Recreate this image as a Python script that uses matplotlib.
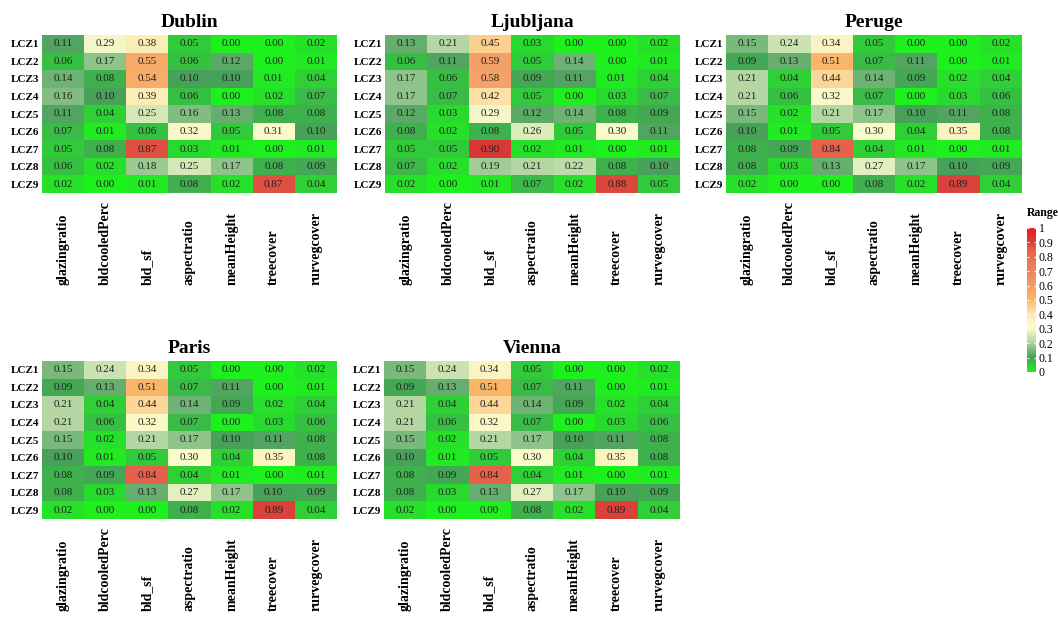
import matplotlib.pyplot as plt
import matplotlib.transforms as mtransforms
from matplotlib.colors import LinearSegmentedColormap
import numpy as np

rows = ['LCZ1', 'LCZ2', 'LCZ3', 'LCZ4', 'LCZ5', 'LCZ6', 'LCZ7', 'LCZ8', 'LCZ9']
cols = ['glazingratio', 'bldcooledPerc', 'bld_sf', 'aspectratio',
        'meanHeight', 'treecover', 'rurvegcover']

dublin = [
    [0.11, 0.29, 0.38, 0.05, 0.00, 0.00, 0.02],
    [0.06, 0.17, 0.55, 0.06, 0.12, 0.00, 0.01],
    [0.14, 0.08, 0.54, 0.10, 0.10, 0.01, 0.04],
    [0.16, 0.10, 0.39, 0.06, 0.00, 0.02, 0.07],
    [0.11, 0.04, 0.25, 0.16, 0.13, 0.08, 0.08],
    [0.07, 0.01, 0.06, 0.32, 0.05, 0.31, 0.10],
    [0.05, 0.08, 0.87, 0.03, 0.01, 0.00, 0.01],
    [0.06, 0.02, 0.18, 0.25, 0.17, 0.08, 0.09],
    [0.02, 0.00, 0.01, 0.08, 0.02, 0.87, 0.04],
]
ljubljana = [
    [0.13, 0.21, 0.45, 0.03, 0.00, 0.00, 0.02],
    [0.06, 0.11, 0.59, 0.05, 0.14, 0.00, 0.01],
    [0.17, 0.06, 0.58, 0.09, 0.11, 0.01, 0.04],
    [0.17, 0.07, 0.42, 0.05, 0.00, 0.03, 0.07],
    [0.12, 0.03, 0.29, 0.12, 0.14, 0.08, 0.09],
    [0.08, 0.02, 0.08, 0.26, 0.05, 0.30, 0.11],
    [0.05, 0.05, 0.90, 0.02, 0.01, 0.00, 0.01],
    [0.07, 0.02, 0.19, 0.21, 0.22, 0.08, 0.10],
    [0.02, 0.00, 0.01, 0.07, 0.02, 0.88, 0.05],
]
peruge = [
    [0.15, 0.24, 0.34, 0.05, 0.00, 0.00, 0.02],
    [0.09, 0.13, 0.51, 0.07, 0.11, 0.00, 0.01],
    [0.21, 0.04, 0.44, 0.14, 0.09, 0.02, 0.04],
    [0.21, 0.06, 0.32, 0.07, 0.00, 0.03, 0.06],
    [0.15, 0.02, 0.21, 0.17, 0.10, 0.11, 0.08],
    [0.10, 0.01, 0.05, 0.30, 0.04, 0.35, 0.08],
    [0.08, 0.09, 0.84, 0.04, 0.01, 0.00, 0.01],
    [0.08, 0.03, 0.13, 0.27, 0.17, 0.10, 0.09],
    [0.02, 0.00, 0.00, 0.08, 0.02, 0.89, 0.04],
]
paris = [r[:] for r in peruge]
vienna = [r[:] for r in peruge]

cities = ['Dublin', 'Ljubljana', 'Peruge', 'Paris', 'Vienna']
tables = [dublin, ljubljana, peruge, paris, vienna]

# colour scale (green -> cream -> orange -> red)
cmap = LinearSegmentedColormap.from_list('range', [
    (0.00, '#1ef01e'), (0.10, '#48a05a'), (0.20, '#aed3a0'),
    (0.30, '#fbfccc'), (0.40, '#fdeab4'), (0.50, '#fab868'),
    (0.60, '#f49c68'), (0.85, '#e6604c'), (0.90, '#d83a36'),
    (1.00, '#f01a1a')])

W, H = 1058, 636
fig = plt.figure(figsize=(W / 100, H / 100), dpi=100)
serif = 'Liberation Serif'

# panel boxes in pixels: left, right, top, bottom
boxes = [(42, 337, 35, 193), (385, 680, 35, 193), (726, 1022, 35, 193),
         (42, 337, 361, 519), (384, 680, 361, 519)]

for city, tab, (l, r, t, b) in zip(cities, tables, boxes):
    ax = fig.add_axes([l / W, 1 - b / H, (r - l) / W, (b - t) / H])
    data = np.array(tab)
    ax.imshow(data, cmap=cmap, vmin=0, vmax=1, aspect='auto',
              interpolation='nearest')
    for i in range(len(rows)):
        for j in range(len(cols)):
            ax.text(j, i, f'{data[i, j]:.2f}', ha='center', va='center',
                    fontsize=8, family=serif, color='#222222')
    ax.set_yticks(range(len(rows)))
    ax.set_yticklabels(rows, family=serif, fontweight='bold', fontsize=8)
    ax.set_xticks([])
    ax.tick_params(axis='y', length=0, pad=2)
    for s in ax.spines.values():
        s.set_visible(False)
    ax.set_title(city, family=serif, fontweight='bold', fontsize=14, pad=6)
    trans = mtransforms.blended_transform_factory(ax.transData, ax.transAxes)
    ybase = -92 / (b - t)
    for j, c in enumerate(cols):
        ax.text(j, ybase, c, rotation=90, ha='center', va='bottom',
                transform=trans, family=serif, fontweight='bold',
                fontsize=10, clip_on=False)

# colour bar
cax = fig.add_axes([1027 / W, 1 - 372 / H, 9 / W, 144 / H])
grad = np.linspace(0, 1, 256).reshape(-1, 1)
cax.imshow(grad, cmap=cmap, vmin=0, vmax=1, aspect='auto', origin='lower',
           extent=[0, 1, 0, 1])
cax.set_xlim(0, 1)
cax.set_ylim(0, 1)
ticks = [0, 0.1, 0.2, 0.3, 0.4, 0.5, 0.6, 0.7, 0.8, 0.9, 1]
cax.hlines(ticks, 0, 0.22, color='white', lw=0.8)
cax.hlines(ticks, 0.78, 1, color='white', lw=0.8)
cax.set_xticks([])
cax.yaxis.tick_right()
cax.set_yticks(ticks)
cax.set_yticklabels([f'{v:g}' for v in ticks], family=serif, fontsize=8.5)
cax.tick_params(axis='y', length=0, pad=2)
for s in cax.spines.values():
    s.set_visible(False)
cax.text(0, 1.06, 'Range', transform=cax.transAxes, ha='left', va='bottom',
         family=serif, fontweight='bold', fontsize=8.5)

fig.savefig('out.png', dpi=100)
